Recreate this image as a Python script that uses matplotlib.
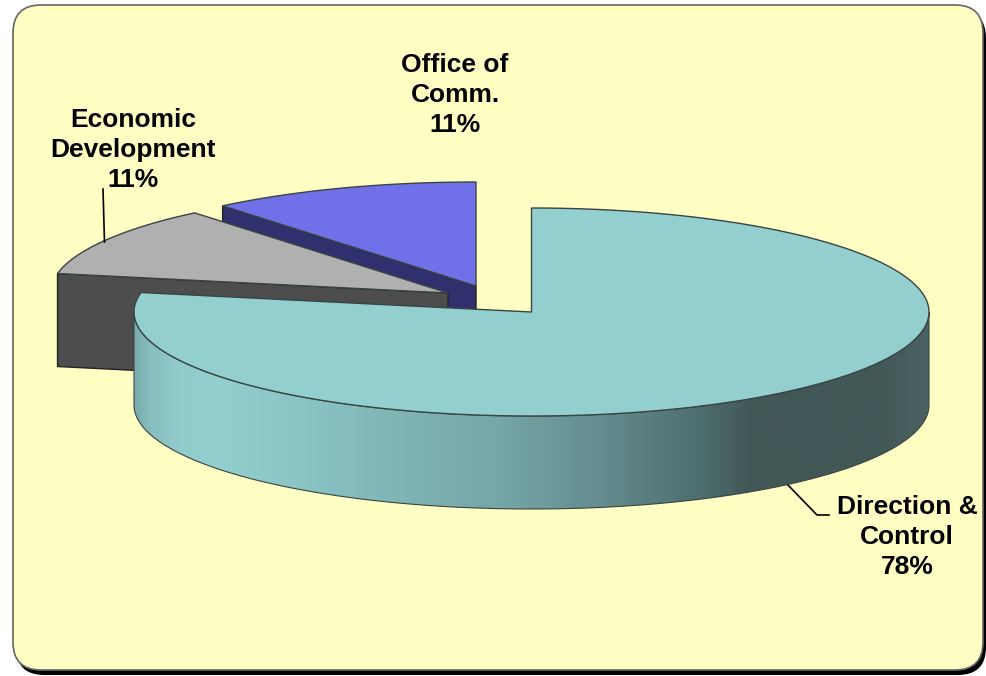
import numpy as np
import matplotlib
matplotlib.use("Agg")
import matplotlib.pyplot as plt
from matplotlib.colors import LinearSegmentedColormap
from matplotlib.patches import FancyBboxPatch, Polygon

plt.rcParams['font.family'] = ['Liberation Sans', 'DejaVu Sans']

# budget shares, clockwise from 12 o'clock
names = ["Direction &\nControl", "Economic\nDevelopment", "Office of\nComm."]
shares = [78, 11, 11]

RX, RY, DEPTH = 397.5, 104, 93
centers = [(531.5, 312), (448, 293), (476, 286)]
top_colors = ["#94cfd0", "#b0b0b0", "#7070e8"]
wall_colors = [None, "#4d4d4d", "#30306e"]
edge = "#3a4443"

# colours of the big slice's rim from left to right
rim_x = [134, 150, 175, 215, 300, 400, 500, 600, 700, 750, 880, 929]
rim_colors = ["#7aadae", "#88bfc0", "#90cacb", "#94cfd0", "#8ac4c5", "#80b4b5",
              "#76a6a7", "#648d8f", "#4e6e6f", "#425857", "#425857", "#4a6261"]


def ellipse_xy(center, degrees):
    t = np.radians(degrees)
    return center[0] + RX * np.cos(t), center[1] - RY * np.sin(t)


def slice_angles():
    # start at the top and walk clockwise, one (start, end) pair per share
    ends = 90 - np.cumsum(shares) * 3.6
    starts = np.r_[90, ends[:-1]]
    return starts, ends


def draw_cut_wall(ax, center, degrees, color, z):
    # flat wall under the radial edge of a pulled out slice
    x, y = ellipse_xy(center, degrees)
    pts = [center, (x, y), (x, y + DEPTH), (center[0], center[1] + DEPTH)]
    ax.add_patch(Polygon(pts, closed=True, fc=color, ec="#222222", lw=1, zorder=z))


def draw_top(ax, center, start, end, color, z):
    t = np.linspace(start, end, 200)
    x, y = ellipse_xy(center, t)
    pts = np.vstack([[center], np.column_stack([x, y])])
    ax.add_patch(Polygon(pts, closed=True, fc=color, ec=edge, lw=1, zorder=z))


def draw_rim(ax, center, z):
    t = np.linspace(180, 360, 300)
    x, y = ellipse_xy(center, t)
    pts = np.vstack([np.column_stack([x, y]),
                     np.column_stack([x[::-1], y[::-1] + DEPTH])])
    outline = Polygon(pts, closed=True, fc="none", ec=edge, lw=0.8, zorder=z + 0.1)
    ax.add_patch(outline)

    stops = [(xi - rim_x[0]) / (rim_x[-1] - rim_x[0]) for xi in rim_x]
    cmap = LinearSegmentedColormap.from_list("rim", list(zip(stops, rim_colors)))
    grad = np.linspace(0, 1, 800).reshape(1, -1)
    top = center[1] - 2
    bottom = center[1] + RY + DEPTH + 2
    im = ax.imshow(grad, cmap=cmap, aspect="auto", zorder=z,
                   extent=(rim_x[0], rim_x[-1], bottom, top))
    im.set_clip_path(outline)


fig = plt.figure(figsize=(9.87, 6.76), dpi=100)
ax = fig.add_axes([0, 0, 1, 1])

# background card with its drop shadow
shadow = FancyBboxPatch((16, 10), 970, 665, boxstyle="round,pad=0,rounding_size=28",
                        fc="black", ec="none", zorder=1)
card = FancyBboxPatch((13, 5), 970, 665, boxstyle="round,pad=0,rounding_size=28",
                      fc="#ffffc4", ec="#666666", lw=1.2, zorder=2)
ax.add_patch(shadow)
ax.add_patch(card)

starts, ends = slice_angles()

# back slices first, the big one sits in front of them
draw_cut_wall(ax, centers[2], starts[2], wall_colors[2], 3)
draw_top(ax, centers[2], starts[2], ends[2], top_colors[2], 4)
draw_cut_wall(ax, centers[1], starts[1], wall_colors[1], 5)
draw_top(ax, centers[1], starts[1], ends[1], top_colors[1], 6)

draw_rim(ax, centers[0], 7)
draw_top(ax, centers[0], starts[0], ends[0], top_colors[0], 8)

# leader lines
ax.plot([103, 104.5], [189, 242], color="black", lw=1.2, zorder=6.5)
ax.plot([786, 817, 829], [483, 515, 515], color="black", lw=1.2, zorder=6.5)

# slice labels
label_pos = [(907, 537), (133, 150), (455, 95)]
for name, share, (lx, ly) in zip(names, shares, label_pos):
    ax.text(lx, ly, f"{name}\n{share}%", ha="center", va="center", fontsize=19,
            fontweight="bold", linespacing=1.31, color="black", zorder=10)

ax.set_xlim(0, 987)
ax.set_ylim(676, 0)
ax.axis("off")

fig.savefig("out.png", dpi=100, facecolor="white")
